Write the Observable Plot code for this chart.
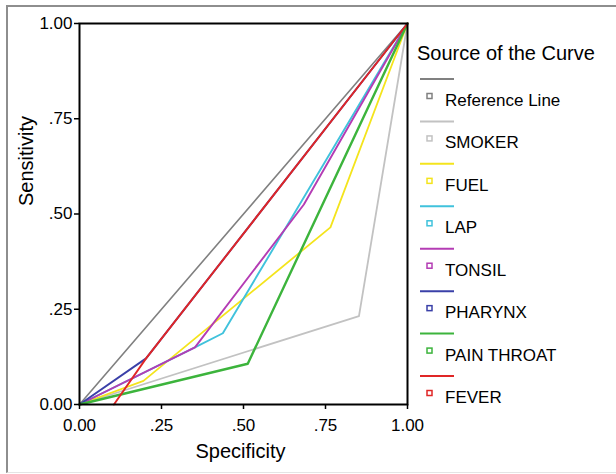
<!DOCTYPE html>
<html>
<head>
<meta charset="utf-8">
<script src="https://cdn.jsdelivr.net/npm/d3@7"></script>
<script src="https://cdn.jsdelivr.net/npm/@observablehq/plot@0.6"></script>
<style>
  html, body { margin: 0; padding: 0; background: #fff; overflow: hidden; }
  #wrap { position: relative; width: 616px; height: 474px; }
  #wrap svg { position: absolute; left: 0; top: 0; }
  #border { position: absolute; left: 6px; top: 5px; width: 700px; height: 465px;
            border-left: 2px solid #8e8e8e; border-top: 2px solid #8e8e8e;
            border-bottom: 1px solid #e4e4e4; pointer-events: none; }
</style>
</head>
<body>
<div id="wrap"><div id="border"></div></div>
<script>
// ---- data ----
const series = ["Reference Line", "SMOKER", "FUEL", "LAP", "TONSIL", "PHARYNX", "PAIN THROAT", "FEVER"];
const colors = ["#808080", "#c2c2c2", "#f4e41c", "#40c2dc", "#b43cb4", "#3a40a8", "#3cb43c", "#e02626"];
const widths = [1.6, 1.8, 1.8, 1.9, 1.9, 1.9, 2.4, 1.9];

const refSpec = [0, 1],               refSens = [0, 1];
const smokerSpec = [0, 0.852, 1],     smokerSens = [0, 0.232, 1];
const fuelSpec = [0, 0.195, 0.765, 1], fuelSens = [0, 0.062, 0.465, 1];
const lapSpec = [0, 0.352, 0.437, 1], lapSens = [0, 0.150, 0.187, 1];
const tonsilSpec = [0, 0.352, 0.684, 1], tonsilSens = [0, 0.150, 0.525, 1];
const pharynxSpec = [0, 0.203, 1],    pharynxSens = [0, 0.121, 1];
const painSpec = [0, 0.513, 1],       painSens = [0, 0.107, 1];
const feverSpec = [0.105, 0.203, 1],  feverSens = [0, 0.121, 1];

const tickValues = [0, 0.25, 0.5, 0.75, 1];
const tickLabels = ["0.00", ".25", ".50", ".75", "1.00"];
const xTitle = "Specificity";
const yTitle = "Sensitivity";
const legendTitle = "Source of the Curve";

// ---- build table ----
const specs = [refSpec, smokerSpec, fuelSpec, lapSpec, tonsilSpec, pharynxSpec, painSpec, feverSpec];
const senss = [refSens, smokerSens, fuelSens, lapSens, tonsilSens, pharynxSens, painSens, feverSens];
const rows = [];
series.forEach((s, i) => specs[i].forEach((x, j) => rows.push({series: s, x, y: senss[i][j]})));

const fmt = d => tickLabels[tickValues.indexOf(d)];
const font = "'Liberation Sans', Arial, sans-serif";

const svg = Plot.plot({
  width: 616, height: 474,
  marginLeft: 79, marginRight: 209, marginTop: 23, marginBottom: 70,
  style: {fontFamily: font, color: "#000", background: "transparent"},
  x: {domain: [0, 1]},
  y: {domain: [0, 1]},
  color: {domain: series, range: colors},
  marks: [
    ...series.map((s, i) => Plot.line(rows.filter(r => r.series === s), {
      x: "x", y: "y", stroke: colors[i], strokeWidth: widths[i]
    })),
    Plot.frame({stroke: "#000", strokeWidth: 2}),
    Plot.axisX({ticks: tickValues, tickFormat: fmt, tickSize: 5, tickPadding: 9, fontSize: 17, strokeWidth: 1.5, label: null}),
    Plot.axisY({ticks: tickValues, tickFormat: fmt, tickSize: 5, tickPadding: 2, fontSize: 17, strokeWidth: 1.5, label: null}),
    Plot.text([xTitle], {text: d => d, frameAnchor: "bottom", lineAnchor: "top", dy: 39, dx: -3, fontSize: 20}),
    Plot.text([yTitle], {text: d => d, frameAnchor: "left", lineAnchor: "top", rotate: -90, dx: -61, dy: -8, fontSize: 20})
  ]
});

// ---- legend ----
const g = d3.select(svg).append("g").attr("font-family", font).attr("fill", "#000")
  .attr("text-anchor", "start");
g.append("text").attr("x", 417).attr("y", 60).attr("font-size", 20).text(legendTitle);
series.forEach((s, i) => {
  const y0 = 79 + 42.43 * i;
  g.append("line").attr("x1", 420).attr("x2", 454).attr("y1", y0).attr("y2", y0)
    .attr("stroke", colors[i]).attr("stroke-width", 2);
  g.append("rect").attr("x", 427).attr("y", y0 + 14.5).attr("width", 5).attr("height", 5)
    .attr("fill", "none").attr("stroke", colors[i]).attr("stroke-width", 1.5);
  g.append("text").attr("x", 445).attr("y", y0 + 27).attr("font-size", 17).text(s);
});

document.getElementById("wrap").prepend(svg);
</script>
</body>
</html>
